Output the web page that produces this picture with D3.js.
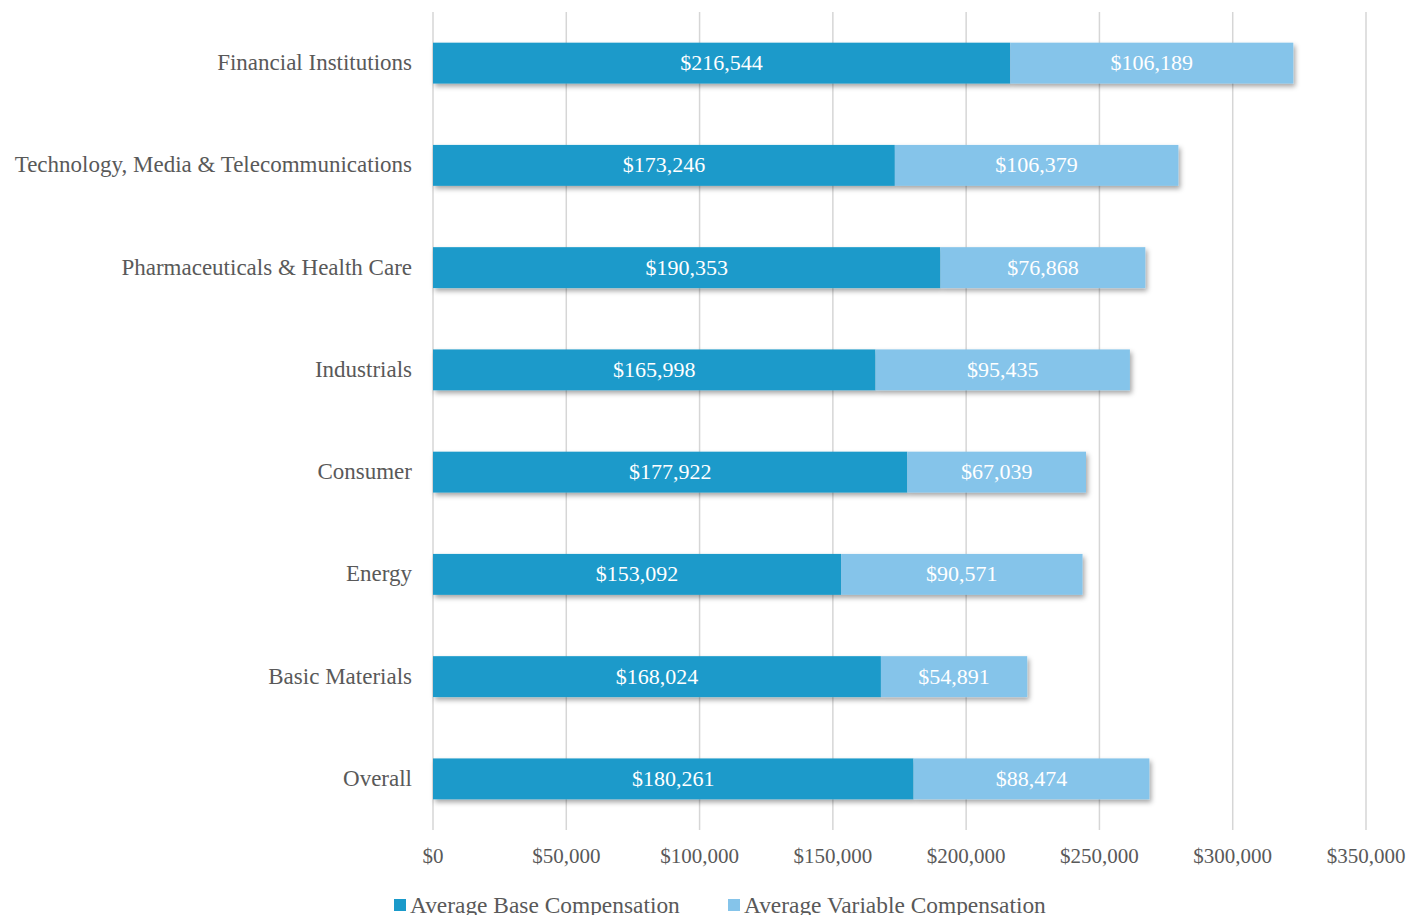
<!DOCTYPE html>
<html><head><meta charset="utf-8">
<script src="https://cdn.jsdelivr.net/npm/d3@7"></script>
<style>
body{margin:0;background:#fff;}
text{font-family:"Liberation Serif","Times New Roman",serif;}
</style></head>
<body><svg id="c" width="1411" height="915"></svg>
<script>
const categories = ["Financial Institutions","Technology, Media & Telecommunications","Pharmaceuticals & Health Care","Industrials","Consumer","Energy","Basic Materials","Overall"];
const baseComp = [216544,173246,190353,165998,177922,153092,168024,180261];
const variableComp = [106189,106379,76868,95435,67039,90571,54891,88474];
const tickValues = [0,50000,100000,150000,200000,250000,300000,350000];
const seriesNames = ["Average Base Compensation","Average Variable Compensation"];
const colors = ["#1a9aca","#85c4ea"];

const svg = d3.select("#c");
const x = d3.scaleLinear().domain([0,350000]).range([433,1366]);
const y = d3.scaleBand().domain(categories).range([12,830]).paddingInner(0.6).paddingOuter(0.3);
const fmt = d3.format("$,");

const defs = svg.append("defs");
const f = defs.append("filter").attr("id","sh").attr("x","-10%").attr("y","-30%").attr("width","120%").attr("height","180%");
f.append("feDropShadow").attr("dx",2).attr("dy",3).attr("stdDeviation",2.5).attr("flood-color","#000").attr("flood-opacity",0.35);

// gridlines
svg.append("g").selectAll("line").data(tickValues).join("line")
  .attr("x1",d=>x(d)).attr("x2",d=>x(d)).attr("y1",12).attr("y2",830)
  .attr("stroke","#d6d6d6").attr("stroke-width",1.5);

// x tick labels
svg.append("g").selectAll("text").data(tickValues).join("text")
  .attr("x",d=>x(d)).attr("y",863).attr("text-anchor","middle")
  .attr("font-size",21).attr("fill","#595959").text(d=>fmt(d));

// category labels
svg.append("g").selectAll("text").data(categories).join("text")
  .attr("x",412).attr("y",d=>y(d)+y.bandwidth()/2+7).attr("text-anchor","end")
  .attr("font-size",23).attr("fill","#595959").text(d=>d);

const rows = categories.map((c,i)=>({c,b:baseComp[i],v:variableComp[i]}));
const g = svg.append("g").attr("filter","url(#sh)");
g.selectAll("rect.b").data(rows).join("rect").attr("class","b")
  .attr("x",x(0)).attr("y",d=>y(d.c)).attr("width",d=>x(d.b)-x(0)).attr("height",y.bandwidth()).attr("fill",colors[0]);
g.selectAll("rect.v").data(rows).join("rect").attr("class","v")
  .attr("x",d=>x(d.b)).attr("y",d=>y(d.c)).attr("width",d=>x(d.b+d.v)-x(d.b)).attr("height",y.bandwidth()).attr("fill",colors[1]);

const lab = svg.append("g");
lab.selectAll("text.b").data(rows).join("text").attr("class","b")
  .attr("x",d=>(x(0)+x(d.b))/2).attr("y",d=>y(d.c)+y.bandwidth()/2+7).attr("text-anchor","middle")
  .attr("font-size",22).attr("fill","#fff").text(d=>fmt(d.b));
lab.selectAll("text.v").data(rows).join("text").attr("class","v")
  .attr("x",d=>(x(d.b)+x(d.b+d.v))/2).attr("y",d=>y(d.c)+y.bandwidth()/2+7).attr("text-anchor","middle")
  .attr("font-size",22).attr("fill","#fff").text(d=>fmt(d.v));

// legend
const leg = svg.append("g");
const lx = [394,728];
seriesNames.forEach((n,i)=>{
  leg.append("rect").attr("x",lx[i]).attr("y",899).attr("width",12).attr("height",12).attr("fill",colors[i]);
  leg.append("text").attr("x",lx[i]+16).attr("y",913).attr("font-size",23.4).attr("fill","#595959").text(n);
});
</script></body></html>
